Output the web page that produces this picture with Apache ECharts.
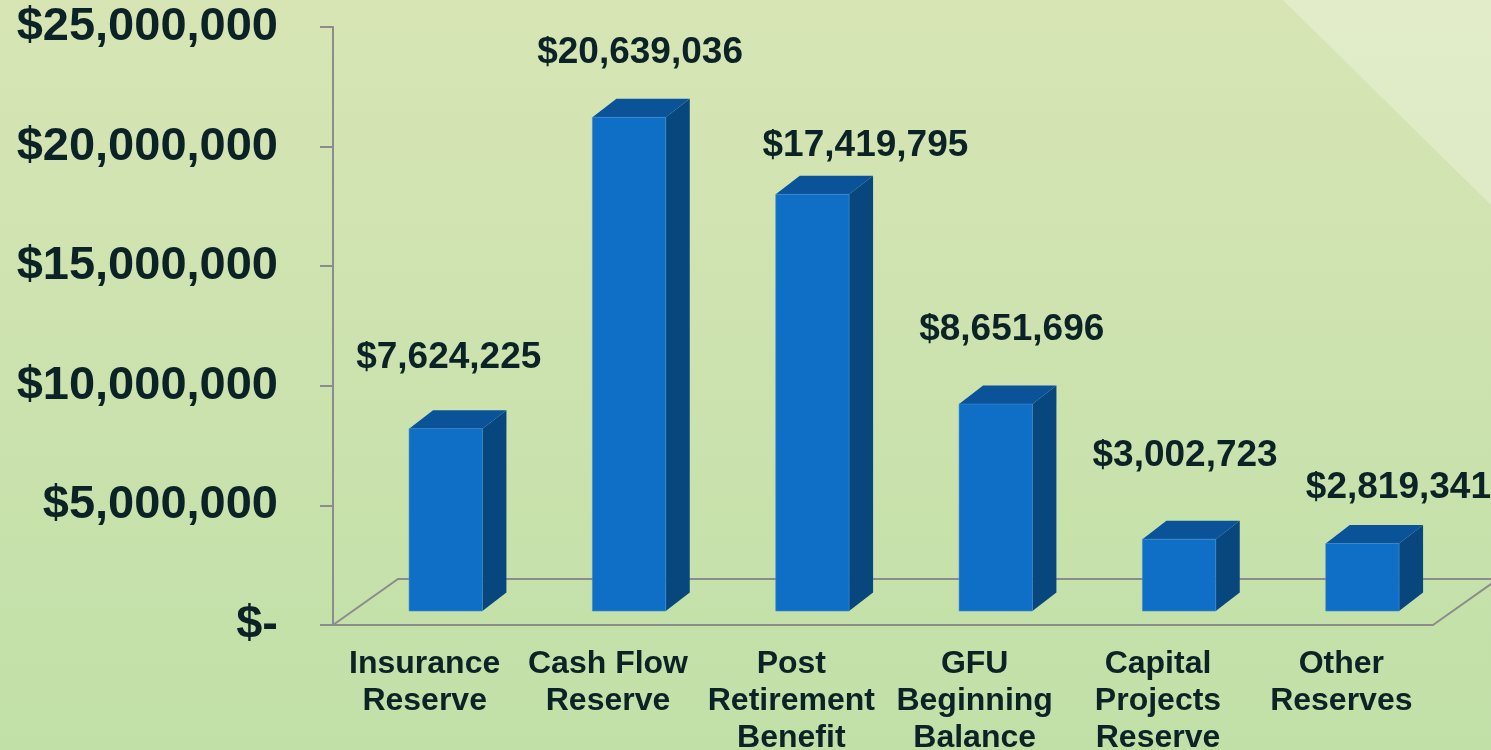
<!DOCTYPE html>
<html>
<head>
<meta charset="utf-8">
<script src="https://cdn.jsdelivr.net/npm/echarts@6/dist/echarts.min.js"></script>
<style>
  html, body { margin: 0; padding: 0; }
  #main { width: 1491px; height: 750px; }
</style>
</head>
<body>
<div id="main"></div>
<script>
var categories = [
  'Insurance\nReserve',
  'Cash Flow\nReserve',
  'Post\nRetirement\nBenefit',
  'GFU\nBeginning\nBalance',
  'Capital\nProjects\nReserve',
  'Other\nReserves'
];
var reserves = [7624225, 20639036, 17419795, 8651696, 3002723, 2819341];
var yTicks = [0, 5000000, 10000000, 15000000, 20000000, 25000000];

// label placement tweaks (px, relative to the bar's front top centre)
var labelNudge = [[3, -71], [11, -65], [53, -49], [16, -74], [6, -83], [36, -56]];

var font = "'Liberation Sans', Arial, sans-serif";
var textColor = '#0b2226';
var axisGray = '#8c8c8c';

// pseudo 3D depth
var depthX = 24, depthY = 18.5;   // bar side/top depth
var floorX = 65, floorY = 46;     // floor depth
var liftY = 14;                   // bar front sits behind floor front edge

function money(v) {
  return v === 0 ? '$-' : '$' + v.toLocaleString('en-US');
}

function renderBar(params, api) {
  var idx = api.value(0);
  var val = api.value(1);
  var base = api.coord([idx, 0]);
  var top = api.coord([idx, val]);
  var bw = api.size([1, 0])[0];
  var w = bw * 0.4;
  var x0 = base[0] - bw / 2 + bw * 0.415;
  var x1 = x0 + w;
  var yb = base[1] - liftY;
  var yt = top[1] - liftY;
  var nudge = labelNudge[params.dataIndex];
  return {
    type: 'group',
    children: [
      {
        type: 'polygon',
        shape: { points: [[x1, yt], [x1 + depthX, yt - depthY], [x1 + depthX, yb - depthY], [x1, yb]] },
        style: { fill: '#08467e' }
      },
      {
        type: 'polygon',
        shape: { points: [[x0, yt], [x0 + depthX, yt - depthY], [x1 + depthX, yt - depthY], [x1, yt]] },
        style: { fill: '#0b5398' }
      },
      {
        type: 'rect',
        shape: { x: x0, y: yt, width: w, height: yb - yt },
        style: { fill: '#0f6fc6', stroke: '#3f8ad0', lineWidth: 0.6 }
      },
      {
        type: 'text',
        style: {
          text: money(val),
          x: (x0 + x1) / 2 + nudge[0],
          y: yt + nudge[1],
          align: 'center',
          verticalAlign: 'middle',
          font: 'bold 37px ' + font,
          fill: textColor
        }
      }
    ]
  };
}

function renderFloor(params, api) {
  var n = categories.length;
  var bw = api.size([1, 0])[0];
  var a = api.coord([0, 0]);
  var b = api.coord([n - 1, 0]);
  var L = a[0] - bw / 2, R = b[0] + bw / 2, y = a[1];
  return {
    type: 'polyline',
    shape: { points: [[L, y], [L + floorX, y - floorY], [R + floorX, y - floorY], [R, y]] },
    style: { stroke: axisGray, lineWidth: 2, fill: null }
  };
}

var chart = echarts.init(document.getElementById('main'));

var option = {
  backgroundColor: {
    type: 'linear', x: 0, y: 0, x2: 0, y2: 1,
    colorStops: [
      { offset: 0, color: '#d7e5b4' },
      { offset: 1, color: '#c1e0a8' }
    ]
  },
  graphic: [
    {
      type: 'polygon',
      z: 0,
      shape: { points: [[1283, 0], [1491, 0], [1491, 205]] },
      style: { fill: 'rgba(255,255,255,0.28)' },
      silent: true
    }
  ],
  animation: false,
  grid: { left: 333, right: 58, top: 27, bottom: 125, outerBoundsMode: 'none', containLabel: false },
  xAxis: {
    type: 'category',
    data: categories,
    axisLine: { lineStyle: { color: axisGray, width: 2 } },
    axisTick: { length: 8, lineStyle: { color: axisGray, width: 2 } },
    axisLabel: {
      interval: 0,
      margin: 21,
      color: textColor,
      fontFamily: font,
      fontWeight: 'bold',
      fontSize: 32,
      lineHeight: 37
    }
  },
  yAxis: {
    type: 'value',
    min: yTicks[0],
    max: yTicks[yTicks.length - 1],
    interval: 5000000,
    splitLine: { show: false },
    axisLine: { show: true, lineStyle: { color: axisGray, width: 2 } },
    axisTick: { show: true, length: 13, lineStyle: { color: axisGray, width: 2 } },
    axisLabel: {
      margin: 55,
      color: textColor,
      fontFamily: font,
      fontWeight: 'bold',
      fontSize: 47,
      formatter: money
    }
  },
  series: [
    {
      type: 'custom',
      z: 1,
      renderItem: renderFloor,
      data: [[0, 0]],
      encode: { x: 0, y: 1 },
      silent: true
    },
    {
      type: 'custom',
      z: 3,
      renderItem: renderBar,
      data: reserves.map(function (v, i) { return [i, v]; }),
      encode: { x: 0, y: 1 }
    }
  ]
};

chart.setOption(option);
</script>
</body>
</html>
